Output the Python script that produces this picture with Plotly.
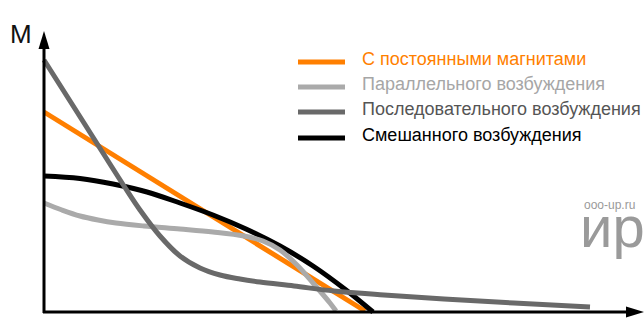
import plotly.graph_objects as go

# Data (x: speed-like units from origin, y: torque M)
names = ["С постоянными магнитами", "Параллельного возбуждения",
         "Последовательного возбуждения", "Смешанного возбуждения"]
colors = ["#FF7F00", "#AAAAAA", "#696969", "#000000"]
text_colors = ["#FF7F00", "#A6A6A6", "#555555", "#000000"]

perm_x = [0, 321]
perm_y = [200, 1]

par_x = [0, 18, 36, 54, 72, 100, 136, 169, 200, 219, 236, 253, 269, 286, 292]
par_y = [109, 102, 96, 92, 89, 86, 83, 80, 76, 71, 62, 47, 29, 9, 1]

ser_x = [0, 40, 80, 96, 116, 136, 156, 176, 196, 216, 250, 290, 340, 400, 470, 546]
ser_y = [252, 189, 126, 102, 76, 56, 44, 37, 33, 30, 26, 21, 17, 13, 9, 5]

mix_x = [0, 36, 69, 103, 136, 169, 202, 236, 269, 302, 329]
mix_y = [136, 133.5, 128, 120, 109, 97, 83, 66, 46, 22, 0]

W, H = 644, 325
OX, OY = 44, 312  # origin pixel


def px(x):
    return x - OX


def py(y):
    return OY - y


fig = go.Figure()
series = [(perm_x, perm_y, 0), (mix_x, mix_y, 3), (par_x, par_y, 1), (ser_x, ser_y, 2)]
for xs, ys, i in series:
    fig.add_trace(go.Scatter(x=xs, y=ys, mode="lines",
                             line=dict(color=colors[i], width=5, shape="spline", smoothing=1.0),
                             showlegend=False, hoverinfo="skip"))

shapes = []
# axes
shapes.append(dict(type="line", xref="x", yref="y", x0=px(44), y0=py(313), x1=px(44), y1=py(46),
                   line=dict(color="black", width=3)))
shapes.append(dict(type="line", xref="x", yref="y", x0=px(43), y0=py(312), x1=px(629), y1=py(312),
                   line=dict(color="black", width=3)))
shapes.append(dict(type="path", xref="x", yref="y",
                   path=f"M {px(44)},{py(31)} L {px(38.5)},{py(49)} L {px(49.5)},{py(49)} Z",
                   fillcolor="black", line=dict(width=0)))
shapes.append(dict(type="path", xref="x", yref="y",
                   path=f"M {px(644)},{py(312)} L {px(626)},{py(306.5)} L {px(626)},{py(317.5)} Z",
                   fillcolor="black", line=dict(width=0)))

annotations = []
leg_y = [62, 87, 112, 138]
for i, name in enumerate(names):
    shapes.append(dict(type="line", xref="x", yref="y", x0=px(298), x1=px(345),
                       y0=py(leg_y[i]), y1=py(leg_y[i]),
                       line=dict(color=colors[i], width=5)))
    annotations.append(dict(x=px(360), y=py(leg_y[i] - 3), xref="x", yref="y", text=name,
                            showarrow=False, xanchor="left", yanchor="middle",
                            font=dict(family="Liberation Sans, Arial", size=18, color=text_colors[i])))

annotations.append(dict(x=px(21), y=py(34), xref="x", yref="y", text="M", showarrow=False,
                        xanchor="center", yanchor="middle",
                        font=dict(family="Liberation Sans, Arial", size=26, color="#111111")))
annotations.append(dict(x=px(582), y=py(205), xref="x", yref="y", text="ooo-up.ru", showarrow=False,
                        xanchor="left", yanchor="middle",
                        font=dict(family="Liberation Sans, Arial", size=12, color="#9A9A9A")))
annotations.append(dict(x=px(578), y=py(226), xref="x", yref="y", text="ир", showarrow=False,
                        xanchor="left", yanchor="middle",
                        font=dict(family="Liberation Sans, Arial", size=58, color="#9A9A9A")))

fig.update_layout(
    width=W, height=H, margin=dict(l=0, r=0, t=0, b=0),
    paper_bgcolor="white", plot_bgcolor="white",
    xaxis=dict(range=[px(0), px(W)], visible=False, fixedrange=True),
    yaxis=dict(range=[py(H), py(0)], visible=False, fixedrange=True),
    shapes=shapes, annotations=annotations, showlegend=False,
)
fig.write_html("out.html", config={"displayModeBar": False})
